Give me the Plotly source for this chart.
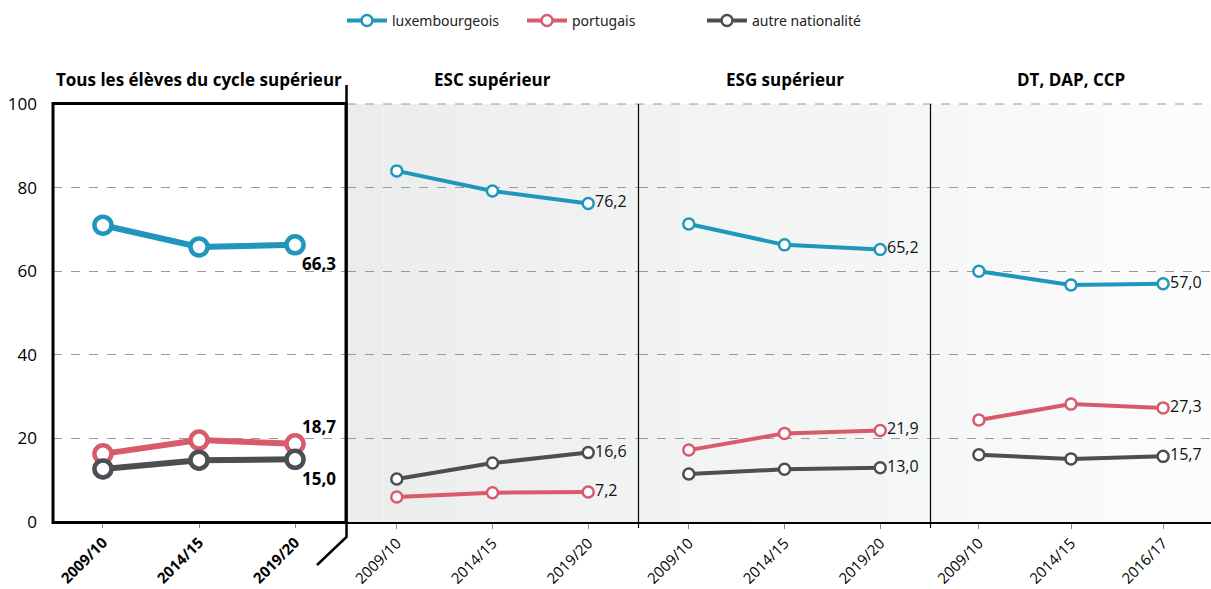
import plotly.graph_objects as go

W, H = 1211, 589

panel_titles = ["Tous les élèves du cycle supérieur", "ESC supérieur", "ESG supérieur", "DT, DAP, CCP"]
periods = [
    ["2009/10", "2014/15", "2019/20"],
    ["2009/10", "2014/15", "2019/20"],
    ["2009/10", "2014/15", "2019/20"],
    ["2009/10", "2014/15", "2016/17"],
]
series_names = ["luxembourgeois", "portugais", "autre nationalité"]
series_colors = ["#1f96bb", "#d85a6b", "#4b4e52"]

luxembourgeois = [[71.0, 65.8, 66.3], [84.0, 79.2, 76.2], [71.3, 66.3, 65.2], [60.0, 56.7, 57.0]]
portugais = [[16.3, 19.6, 18.7], [6.0, 7.0, 7.2], [17.2, 21.2, 21.9], [24.4, 28.2, 27.3]]
autre = [[12.7, 14.8, 15.0], [10.3, 14.1, 16.6], [11.5, 12.6, 13.0], [16.1, 15.1, 15.7]]
all_series = [luxembourgeois, portugais, autre]

y_ticks = [0, 20, 40, 60, 80, 100]

def fx(p):
    return p / W

def fy(p):
    return 1 - p / H

domains = [(53, 345), (347, 638), (639, 930), (931, 1211)]
y_dom = [fy(522), fy(104)]
FONT = "Open Sans"

fig = go.Figure()
for pi in range(4):
    ax = "" if pi == 0 else str(pi + 1)
    first = pi == 0
    for si, data in enumerate(all_series):
        fig.add_trace(go.Scatter(
            x=periods[pi], y=data[pi], mode="lines+markers",
            name=series_names[si], legendgroup=series_names[si],
            showlegend=(pi == 1),
            line=dict(color=series_colors[si], width=6 if first else 4),
            marker=dict(size=17 if first else 11, color="white",
                        line=dict(color=series_colors[si], width=4.5 if first else 2.5)),
            xaxis="x" + ax, yaxis="y" + ax, hoverinfo="skip",
        ))
        v = data[pi][-1]
        label = f"{v:.1f}".replace(".", ",")
        if first:
            yshift = [-19, 17, -19][si]
            fig.add_annotation(x=periods[pi][-1], y=v, xref="x", yref="y", text=label,
                               showarrow=False, xanchor="left", xshift=5, yshift=yshift,
                               font=dict(family=FONT, size=17, color="black", weight="bold"))
        else:
            fig.add_annotation(x=periods[pi][-1], y=v, xref="x" + ax, yref="y" + ax, text=label,
                               showarrow=False, xanchor="left", xshift=5, yshift=2,
                               font=dict(family=FONT, size=16, color="#111"))

    fig.update_layout(**{
        "xaxis" + ax: dict(domain=[fx(domains[pi][0]), fx(domains[pi][1])], range=[-0.52, 2.52],
                           type="category", showgrid=False, showline=not first, linecolor="black",
                           linewidth=1.5, ticks="outside", ticklen=5, tickcolor="#888",
                           tickangle=-45, zeroline=False,
                           tickfont=dict(family=FONT, size=15, color="black",
                                         weight="bold" if first else "normal"),
                           anchor="y" + ax),
        "yaxis" + ax: dict(domain=y_dom, range=[0, 100], tickvals=y_ticks,
                           showticklabels=first, showgrid=True, gridcolor="#999",
                           griddash="dash", gridwidth=1, zeroline=False, showline=False,
                           ticklabelstandoff=15,
                           tickfont=dict(family=FONT, size=17, color="black"),
                           anchor="x" + ax),
    })
    cx = (domains[pi][0] + domains[pi][1]) / 2
    fig.add_annotation(x=fx(cx), y=fy(80), xref="paper", yref="paper", text=panel_titles[pi],
                       showarrow=False, xanchor="center", yanchor="middle",
                       font=dict(family=FONT, size=17, color="black", weight="bold"))

# panel backgrounds (light gradient)
bg = [None, ("#ebecec", "#f1f2f2"), ("#f1f2f2", "#f5f6f6"), ("#f6f7f7", "#fcfcfc")]
def hex2rgb(h):
    return tuple(int(h[i:i + 2], 16) for i in (1, 3, 5))
for pi in range(1, 4):
    c0, c1 = hex2rgb(bg[pi][0]), hex2rgb(bg[pi][1])
    n = 8
    x0, x1 = domains[pi]
    for k in range(n):
        t = k / (n - 1)
        col = "rgb(%d,%d,%d)" % tuple(round(a + (b - a) * t) for a, b in zip(c0, c1))
        fig.add_shape(type="rect", xref="paper", yref="paper",
                      x0=fx(x0 + (x1 - x0) * k / n), x1=fx(x0 + (x1 - x0) * (k + 1) / n),
                      y0=fy(522), y1=fy(104), fillcolor=col, line=dict(width=0), layer="below")

# dashed line at 100 across panels 2-4
fig.add_shape(type="line", xref="paper", yref="paper", x0=fx(347), x1=1, y0=fy(104), y1=fy(104),
              line=dict(color="#999", width=1, dash="dash"))
# panel dividers
for xp in (638.5, 930.5):
    fig.add_shape(type="line", xref="paper", yref="paper", x0=fx(xp), x1=fx(xp), y0=fy(104), y1=fy(528),
                  line=dict(color="black", width=1.2))
# panel 1 thick frame
fig.add_shape(type="rect", xref="paper", yref="paper", x0=fx(53), x1=fx(346), y0=fy(522.5), y1=fy(103.5),
              line=dict(color="black", width=3))
# separator with bracket
fig.add_shape(type="path", xref="paper", yref="paper",
              path=f"M {fx(346.5)},{fy(85)} L {fx(346.5)},{fy(537)} L {fx(317)},{fy(565)}",
              line=dict(color="black", width=2.5))

fig.update_layout(
    width=W, height=H, margin=dict(l=0, r=0, t=0, b=0, autoexpand=False),
    paper_bgcolor="white", plot_bgcolor="rgba(0,0,0,0)",
    font=dict(family=FONT),
    legend=dict(orientation="h", x=fx(342), y=fy(5), xanchor="left", yanchor="top",
                font=dict(family="Noto Sans", size=14, color="#222"),
                entrywidth=125, itemwidth=40, bgcolor="rgba(0,0,0,0)"),
)

fig.write_html("out.html", config={"displayModeBar": False},
               post_script="document.body.style.margin='0';document.body.style.overflow='hidden';")
